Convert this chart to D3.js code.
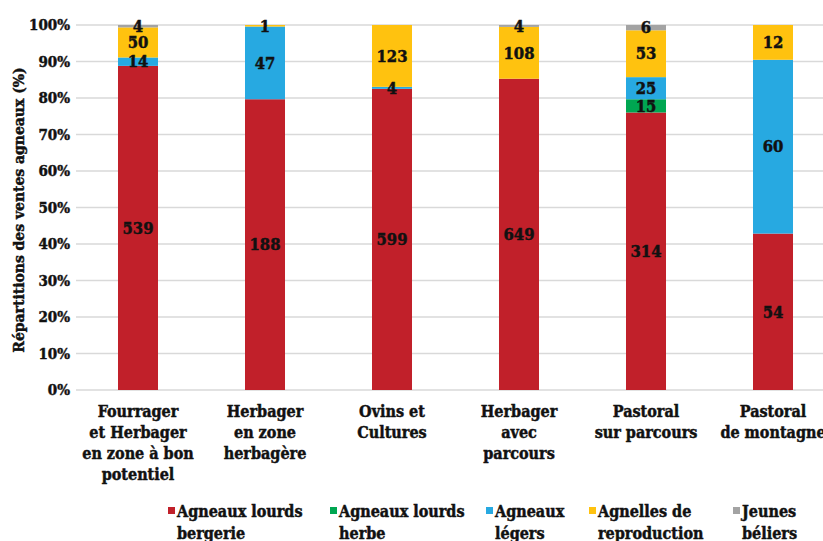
<!DOCTYPE html>
<html><head><meta charset="utf-8">
<script src="https://cdn.jsdelivr.net/npm/d3@7"></script>
<style>
body{margin:0;background:#fff;}
text{font-family:"DejaVu Serif Condensed","DejaVu Serif",serif;font-stretch:condensed;font-weight:bold;fill:#111;stroke:#111;stroke-width:0.45px;}
</style></head>
<body><svg id="c" width="823" height="541"></svg>
<script>
const categories = ["Fourrager\net Herbager\nen zone à bon\npotentiel","Herbager\nen zone\nherbagère","Ovins et\nCultures","Herbager\navec\nparcours","Pastoral\nsur parcours","Pastoral\nde montagne"];
const seriesNames = ["Agneaux lourds\nbergerie","Agneaux lourds\nherbe","Agneaux\nlégers","Agnelles de\nreproduction","Jeunes\nbéliers"];
const colors = ["#c1202a","#00a651","#27a9e1","#ffc20f","#a3a3a3"];
const lourdsBergerie = [539,188,599,649,314,54];
const lourdsHerbe    = [0,0,0,0,15,0];
const legers         = [14,47,4,0,25,60];
const agnelles       = [50,1,123,108,53,12];
const beliers        = [4,0,0,4,6,0];
const yTicks = [0,0.1,0.2,0.3,0.4,0.5,0.6,0.7,0.8,0.9,1];

const series = [lourdsBergerie,lourdsHerbe,legers,agnelles,beliers];
const svg = d3.select("#c");
const x = d3.scaleBand().domain(categories).range([74.5,836.5]).paddingInner(0.685).paddingOuter(0.3425);
const y = d3.scaleLinear().domain([0,1]).range([390,25]);

// gridlines
svg.append("g").selectAll("line").data(yTicks).join("line")
  .attr("x1",76).attr("x2",823).attr("y1",d=>y(d)).attr("y2",d=>y(d))
  .attr("stroke","#d9d9d9").attr("stroke-width",1.3);

// y tick labels
svg.append("g").selectAll("text").data(yTicks).join("text")
  .attr("x",70).attr("y",d=>y(d)).attr("dy","0.35em").attr("text-anchor","end")
  .attr("font-size",15).text(d=>d3.format(".0%")(d));

svg.append("text").attr("transform","translate(24,210) rotate(-90)").attr("text-anchor","middle")
  .attr("font-size",15.5).text("Répartitions des ventes agneaux (%)");

// stack
const rows = categories.map((c,i)=>{const o={cat:c}; series.forEach((s,j)=>o["s"+j]=s[i]); return o;});
const keys = series.map((s,j)=>"s"+j);
const totals = categories.map((c,i)=>d3.sum(series,s=>s[i]));
const stacked = d3.stack().keys(keys)(rows);
const g = svg.append("g");
stacked.forEach((layer,j)=>{
  layer.forEach((d,i)=>{
    const t = totals[i];
    const y0 = y(d[0]/t), y1 = y(d[1]/t);
    if(d[1]-d[0] <= 0) return;
    g.append("rect").attr("x",x(categories[i])).attr("width",x.bandwidth())
      .attr("y",y1).attr("height",y0-y1).attr("fill",colors[j]);
  });
});
stacked.forEach((layer,j)=>{
  layer.forEach((d,i)=>{
    const t = totals[i];
    const v = d[1]-d[0];
    if(v<=0) return;
    const ym = (y(d[0]/t)+y(d[1]/t))/2;
    g.append("text").attr("x",x(categories[i])+x.bandwidth()/2).attr("y",ym).attr("dy","0.35em")
      .attr("text-anchor","middle").attr("font-size",16.5).text(v);
  });
});

// category labels
categories.forEach(c=>{
  const t = svg.append("text").attr("x",x(c)+x.bandwidth()/2).attr("y",417).attr("text-anchor","middle").attr("font-size",16);
  c.split("\n").forEach((l,k)=>t.append("tspan").attr("x",x(c)+x.bandwidth()/2).attr("dy",k?21:0).text(l));
});

// legend
const legX = [168,330,486,589,733];
seriesNames.forEach((n,j)=>{
  svg.append("rect").attr("x",legX[j]).attr("y",507).attr("width",7).attr("height",7).attr("fill",colors[j]);
  const t = svg.append("text").attr("x",legX[j]+9).attr("y",517).attr("font-size",16);
  n.split("\n").forEach((l,k)=>t.append("tspan").attr("x",legX[j]+9).attr("dy",k?22:0).text(l));
});
</script></body></html>
